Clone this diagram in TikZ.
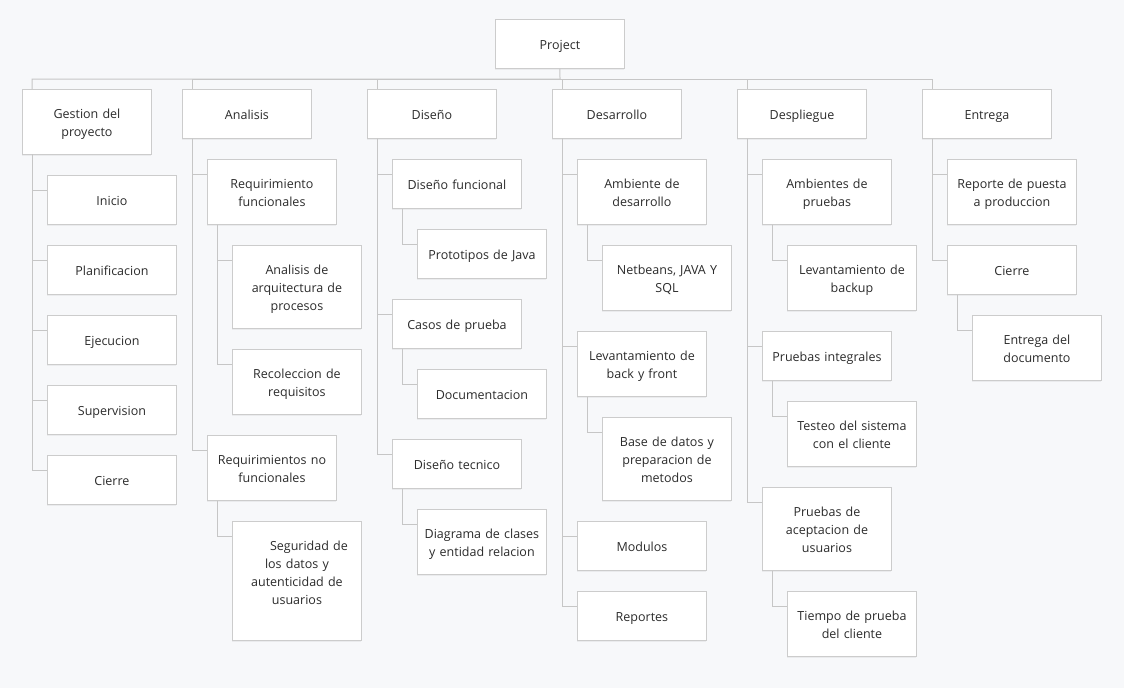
\documentclass[tikz,border=0pt]{standalone}
\usepackage{fontspec}
\setmainfont{Open Sans}
\usetikzlibrary{positioning, shadows}
\definecolor{bgcol}{HTML}{F7F8FA}
\definecolor{edgecol}{HTML}{CCCCCC}
\definecolor{linkcol}{HTML}{C6C6C6}
\definecolor{txtcol}{HTML}{2B2B2B}
\tikzset{
    box/.style={rectangle, draw=edgecol, line width=0.9pt, fill=white, anchor=north west, minimum width=129pt, minimum height=49pt, text width=118pt, align=center, inner sep=0pt, text=txtcol, font=\fontsize{12.5}{18}\selectfont, execute at begin node={\rule{0pt}{16.6pt}}, execute at end node=\strut, drop shadow={shadow xshift=0pt, shadow yshift=-1.5pt, opacity=0.10}},
    twoline/.style={box, minimum height=65pt},
    threeline/.style={box, minimum height=83pt},
    link/.style={draw=linkcol, line width=1pt}
}
\begin{document}
\begin{tikzpicture}[x=1pt, y=-1pt]
    \fill [bgcol] (0,0) rectangle (1124,688);
    \useasboundingbox (0,0) rectangle (1124,688);

    \node (proj) [box] at (495,19) {Project};
    \coordinate (bus) at (560,79);

    \node (gest) [twoline] at (22,89) {Gestion del\\proyecto};
    \node (anal) [box] at (182,89) {Analisis};
    \node (dise) [box] at (367,89) {Diseño};
    \node (desa) [box] at (552,89) {Desarrollo};
    \node (desp) [box] at (737,89) {Despliegue};
    \node (entr) [box] at (922,89) {Entrega};

    \node (gest1) [box] at (47,175) {Inicio};
    \node (gest2) [box] at (47,245) {Planificacion};
    \node (gest3) [box] at (47,315) {Ejecucion};
    \node (gest4) [box] at (47,385) {Supervision};
    \node (gest5) [box] at (47,455) {Cierre};

    \node (anal1) [twoline] at (207,159) {Requirimiento\\funcionales};
    \node (anal11) [threeline] at (232,245) {Analisis de\\arquitectura de\\procesos};
    \node (anal12) [twoline] at (232,349) {Recoleccion de\\requisitos};
    \node (anal2) [twoline] at (207,435) {Requirimientos no\\funcionales};
    \node (anal21) [box, minimum height=119pt] at (232,521) {\hspace*{24pt}Seguridad de\\los datos y\\autenticidad de\\usuarios\\ \mbox{}};

    \node (dise1) [box] at (392,159) {Diseño funcional};
    \node (dise11) [box] at (417,229) {Prototipos de Java};
    \node (dise2) [box] at (392,299) {Casos de prueba};
    \node (dise21) [box] at (417,369) {Documentacion};
    \node (dise3) [box] at (392,439) {Diseño tecnico};
    \node (dise31) [twoline] at (417,509) {Diagrama de clases\\y entidad relacion};

    \node (desa1) [twoline] at (577,159) {Ambiente de\\desarrollo};
    \node (desa11) [twoline] at (602,245) {Netbeans, JAVA Y\\SQL};
    \node (desa2) [twoline] at (577,331) {Levantamiento de\\back y front};
    \node (desa21) [threeline] at (602,417) {Base de datos y\\preparacion de\\metodos};
    \node (desa3) [box] at (577,521) {Modulos};
    \node (desa4) [box] at (577,591) {Reportes};

    \node (desp1) [twoline] at (762,159) {Ambientes de\\pruebas};
    \node (desp11) [twoline] at (787,245) {Levantamiento de\\backup};
    \node (desp2) [box] at (762,331) {Pruebas integrales};
    \node (desp21) [twoline] at (787,401) {Testeo del sistema\\con el cliente};
    \node (desp3) [threeline] at (762,487) {Pruebas de\\aceptacion de\\usuarios};
    \node (desp31) [twoline] at (787,591) {Tiempo de prueba\\del cliente};

    \node (entr1) [twoline] at (947,159) {Reporte de puesta\\a produccion};
    \node (entr2) [box] at (947,245) {Cierre};
    \node (entr21) [twoline] at (972,315) {Entrega del\\documento};

    \draw [link] (proj.south) -- (bus) -| ([xshift=10pt]gest.north west);
    \draw [link] (bus) -| ([xshift=10pt]anal.north west);
    \draw [link] (bus) -| ([xshift=10pt]dise.north west);
    \draw [link] (bus) -| ([xshift=10pt]desa.north west);
    \draw [link] (bus) -| ([xshift=10pt]desp.north west);
    \draw [link] (bus) -| ([xshift=10pt]entr.north west);

    \draw [link] ([xshift=10pt]gest.south west) |- ([yshift=-15pt]gest1.north west);
    \draw [link] ([xshift=10pt]gest.south west) |- ([yshift=-15pt]gest2.north west);
    \draw [link] ([xshift=10pt]gest.south west) |- ([yshift=-15pt]gest3.north west);
    \draw [link] ([xshift=10pt]gest.south west) |- ([yshift=-15pt]gest4.north west);
    \draw [link] ([xshift=10pt]gest.south west) |- ([yshift=-15pt]gest5.north west);

    \draw [link] ([xshift=10pt]anal.south west) |- ([yshift=-15pt]anal1.north west);
    \draw [link] ([xshift=10pt]anal.south west) |- ([yshift=-15pt]anal2.north west);
    \draw [link] ([xshift=10pt]anal1.south west) |- ([yshift=-15pt]anal11.north west);
    \draw [link] ([xshift=10pt]anal1.south west) |- ([yshift=-15pt]anal12.north west);
    \draw [link] ([xshift=10pt]anal2.south west) |- ([yshift=-15pt]anal21.north west);

    \draw [link] ([xshift=10pt]dise.south west) |- ([yshift=-15pt]dise1.north west);
    \draw [link] ([xshift=10pt]dise.south west) |- ([yshift=-15pt]dise2.north west);
    \draw [link] ([xshift=10pt]dise.south west) |- ([yshift=-15pt]dise3.north west);
    \draw [link] ([xshift=10pt]dise1.south west) |- ([yshift=-15pt]dise11.north west);
    \draw [link] ([xshift=10pt]dise2.south west) |- ([yshift=-15pt]dise21.north west);
    \draw [link] ([xshift=10pt]dise3.south west) |- ([yshift=-15pt]dise31.north west);

    \draw [link] ([xshift=10pt]desa.south west) |- ([yshift=-15pt]desa1.north west);
    \draw [link] ([xshift=10pt]desa.south west) |- ([yshift=-15pt]desa2.north west);
    \draw [link] ([xshift=10pt]desa.south west) |- ([yshift=-15pt]desa3.north west);
    \draw [link] ([xshift=10pt]desa.south west) |- ([yshift=-15pt]desa4.north west);
    \draw [link] ([xshift=10pt]desa1.south west) |- ([yshift=-15pt]desa11.north west);
    \draw [link] ([xshift=10pt]desa2.south west) |- ([yshift=-15pt]desa21.north west);

    \draw [link] ([xshift=10pt]desp.south west) |- ([yshift=-15pt]desp1.north west);
    \draw [link] ([xshift=10pt]desp.south west) |- ([yshift=-15pt]desp2.north west);
    \draw [link] ([xshift=10pt]desp.south west) |- ([yshift=-15pt]desp3.north west);
    \draw [link] ([xshift=10pt]desp1.south west) |- ([yshift=-15pt]desp11.north west);
    \draw [link] ([xshift=10pt]desp2.south west) |- ([yshift=-15pt]desp21.north west);
    \draw [link] ([xshift=10pt]desp3.south west) |- ([yshift=-15pt]desp31.north west);

    \draw [link] ([xshift=10pt]entr.south west) |- ([yshift=-15pt]entr1.north west);
    \draw [link] ([xshift=10pt]entr.south west) |- ([yshift=-15pt]entr2.north west);
    \draw [link] ([xshift=10pt]entr2.south west) |- ([yshift=-15pt]entr21.north west);

\end{tikzpicture}
\end{document}
